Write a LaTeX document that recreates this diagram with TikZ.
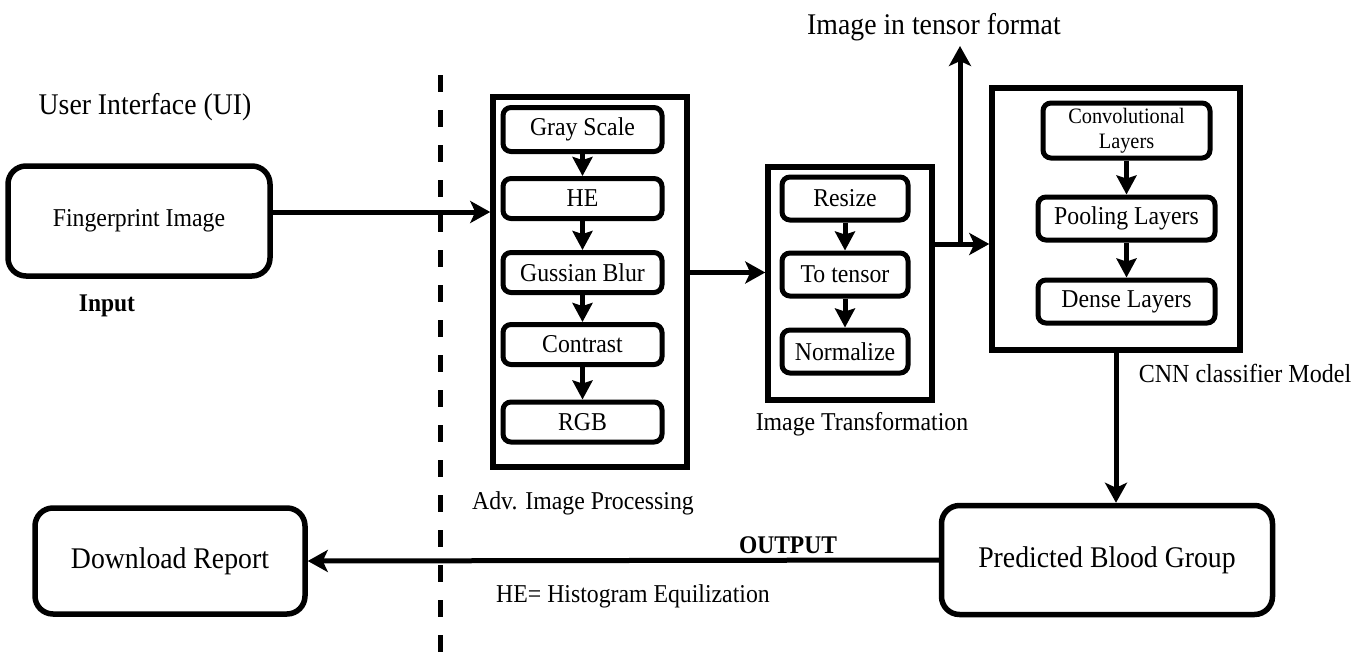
\documentclass[tikz,border=0pt]{standalone}
\usepackage{fontspec}
\setmainfont{Liberation Serif}[FakeStretch=0.925]
\usetikzlibrary{arrows.meta}
\begin{document}
\begin{tikzpicture}[x=1pt,y=-1pt,
  bigfont/.style={font=\fontsize{30}{34}\selectfont},
  midfont/.style={font=\fontsize{25.7}{29}\selectfont},
  bigbox/.style={draw, line width=5.5pt, rounded corners=18pt, inner sep=0pt},
  outerbox/.style={draw, line width=5.5pt, inner sep=0pt},
  stagebox/.style={draw, line width=5pt, rounded corners=8pt, inner sep=0pt, midfont},
  lbl/.style={inner sep=0pt, midfont},
  arr/.style={line width=5pt, -{Stealth[length=20pt,width=22pt,inset=5pt]}},
  sarr/.style={line width=5pt, -{Stealth[length=19pt,width=20pt,inset=3pt]}}
]
\useasboundingbox (0,0) rectangle (1361,665);

% dashed separator
\draw[line width=5pt, dash pattern=on 17pt off 18pt] (440,75) -- (440,662);

% left column
\node[lbl, bigfont] (ui) at (145,107) {User Interface (UI)};
\node[bigbox, midfont, minimum width=262pt, minimum height=110pt] (fp) at (139,221) {Fingerprint Image};
\node[lbl, font=\fontsize{25.4}{29}\selectfont\bfseries] (inp) at (107,306) {Input};
\node[bigbox, bigfont, minimum width=270pt, minimum height=106pt] (dl) at (170,561) {Download Report};

% advanced image processing
\node[outerbox, minimum width=194pt, minimum height=370pt] (adv) at (590,282) {};
\node[stagebox, minimum width=159pt, minimum height=44pt] (g1) at (582.5,129.5) {Gray Scale};
\node[stagebox, minimum width=159pt, minimum height=40pt] (g2) at (582.5,198.5) {HE};
\node[stagebox, minimum width=159pt, minimum height=40pt] (g3) at (582.5,272.5) {Gussian Blur};
\node[stagebox, minimum width=159pt, minimum height=40pt] (g4) at (582.5,344.5) {Contrast};
\node[stagebox, minimum width=159pt, minimum height=40pt] (g5) at (582.5,422) {RGB};
\node[lbl] (advl) at (583,503) {Adv. Image Processing};

% image transformation
\node[outerbox, minimum width=164pt, minimum height=233pt] (imt) at (850,283.5) {};
\node[stagebox, minimum width=126pt, minimum height=43pt] (t1) at (845,198.5) {Resize};
\node[stagebox, minimum width=126pt, minimum height=43pt] (t2) at (845,274.5) {To tensor};
\node[stagebox, minimum width=126pt, minimum height=43pt] (t3) at (845,351.5) {Normalize};
\node[lbl] (imtl) at (862,424) {Image Transformation};

% tensor output label
\node[lbl, bigfont] (tens) at (934,27) {Image in tensor format};

% CNN
\node[outerbox, minimum width=248pt, minimum height=262pt] (cnn) at (1116,219) {};
\node[stagebox, font=\fontsize{22}{25}\selectfont, align=center, minimum width=167pt, minimum height=55pt] (c1) at (1126.5,130.5) {Convolutional\\Layers};
\node[stagebox, minimum width=177pt, minimum height=43pt] (c2) at (1126.5,218.5) {Pooling Layers};
\node[stagebox, minimum width=177pt, minimum height=43pt] (c3) at (1126.5,301.5) {Dense Layers};
\node[lbl, font=\fontsize{26}{30}\selectfont] (cnnl) at (1245,373) {CNN classifier Model};

% prediction
\node[bigbox, bigfont, minimum width=331pt, minimum height=109pt] (pred) at (1107,560) {Predicted Blood Group};
\node[lbl, font=\fontsize{25.4}{29}\selectfont\bfseries] (outl) at (788,545) {OUTPUT};
\node[lbl] (hel) at (633,596) {HE= Histogram Equilization};

% connectors
\coordinate (a1) at (270,212);
\coordinate (j) at (960,244);
\coordinate (tt) at (960,46);
\draw[arr] (fp.east |- a1) -- (adv.west |- a1);
\draw[sarr] (g1) -- (g2);
\draw[sarr] (g2) -- (g3);
\draw[sarr] (g3) -- (g4);
\draw[sarr] (g4) -- (g5);
\draw[arr] (adv.east |- g3) -- (imt.west |- g3);
\draw[sarr] (t1) -- (t2);
\draw[sarr] (t2) -- (t3);
\draw[arr] (imt.east |- j) -- (cnn.west |- j);
\draw[arr] (j) -- (tt);
\draw[sarr] (c1.south -| c2.north) -- (c2.north);
\draw[sarr] (c2) -- (c3);
\draw[arr] (cnn.south) -- (cnn.south |- pred.north);
\draw[arr] (pred.west) -- (dl.east);
\end{tikzpicture}
\end{document}
